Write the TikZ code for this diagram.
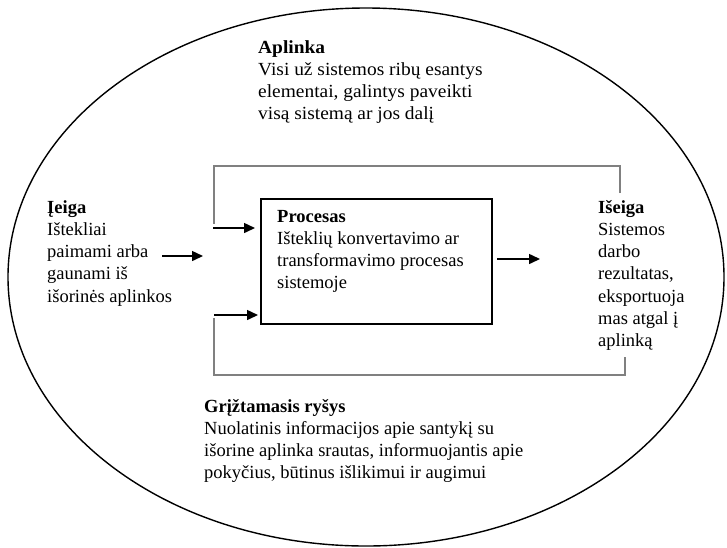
\documentclass[tikz,border=0pt]{standalone}
\usepackage{fontspec}
\setmainfont{Liberation Serif}
\usetikzlibrary{arrows.meta}
% a left-aligned block whose baseline is that of its first line
\newcommand\textblk[1]{\begin{tabular}[t]{@{}l@{}}#1\end{tabular}}
\begin{document}
\begin{tikzpicture}[x=1pt,y=-1pt,
  txt/.style={anchor=base west, inner sep=0pt,
    font=\fontsize{18.5}{22.3}\selectfont},
  flow/.style={-{Triangle[length=11pt,width=10pt]}, line width=1.5pt, black},
  loopline/.style={draw=black!50, line width=1.2pt},
  ]
\useasboundingbox (0,0) rectangle (727,547);

% environment boundary
\draw[line width=1.4pt] (366,277) ellipse [x radius=358, y radius=269];

% the process box
\node[draw, line width=1.6pt, minimum width=231pt, minimum height=125pt,
      anchor=north west, inner sep=0pt] (proc) at (260,198) {};

% text blocks
\node[txt, xscale=1.05, transform shape] (env) at (258,53) {\textblk{\textbf{Aplinka}\\Visi už sistemos ribų esantys\\elementai, galintys paveikti\\visą sistemą ar jos dalį}};
\node[txt] (input) at (47,213) {\textblk{\textbf{Įeiga}\\Ištekliai\\paimami arba\\gaunami iš\\išorinės aplinkos}};
\node[txt] (ptext) at (277,222) {\textblk{\textbf{Procesas}\\Išteklių konvertavimo ar\\transformavimo procesas\\sistemoje}};
\node[txt] (output) at (598,213) {\textblk{\textbf{Išeiga}\\Sistemos\\darbo\\rezultatas,\\eksportuoja\\mas atgal į\\aplinką}};
\node[txt] (fb) at (204,412) {\textblk{\textbf{Grįžtamasis ryšys}\\Nuolatinis informacijos apie santykį su\\išorine aplinka srautas, informuojantis apie\\pokyčius, būtinus išlikimui ir augimui}};

% connector end points
\coordinate (inA) at (162,256);
\coordinate (inB) at (203,256);
\coordinate (outA) at (497,259);
\coordinate (outB) at (540,259);
\coordinate (topR) at (620,193);
\coordinate (topL) at (214,224);
\coordinate (topY) at (0,166);
\coordinate (topArr) at (213,228);
\coordinate (botArr) at (214,315);
\coordinate (botL) at (214,318);
\coordinate (botR) at (625,357);
\coordinate (botY) at (0,375);

% main flow
\draw[flow] (inA) -- (inB);
\draw[flow] (outA) -- (outB);

% feedback loops
\draw[loopline] (topR) |- (topL |- topY) -- (topL);
\draw[flow, shorten >=5pt] (topArr) -- (proc.west |- topArr);
\draw[loopline] (botR) |- (botL |- botY) -- (botL);
\draw[flow, shorten >=2pt] (botArr) -- (proc.west |- botArr);
\end{tikzpicture}
\end{document}
